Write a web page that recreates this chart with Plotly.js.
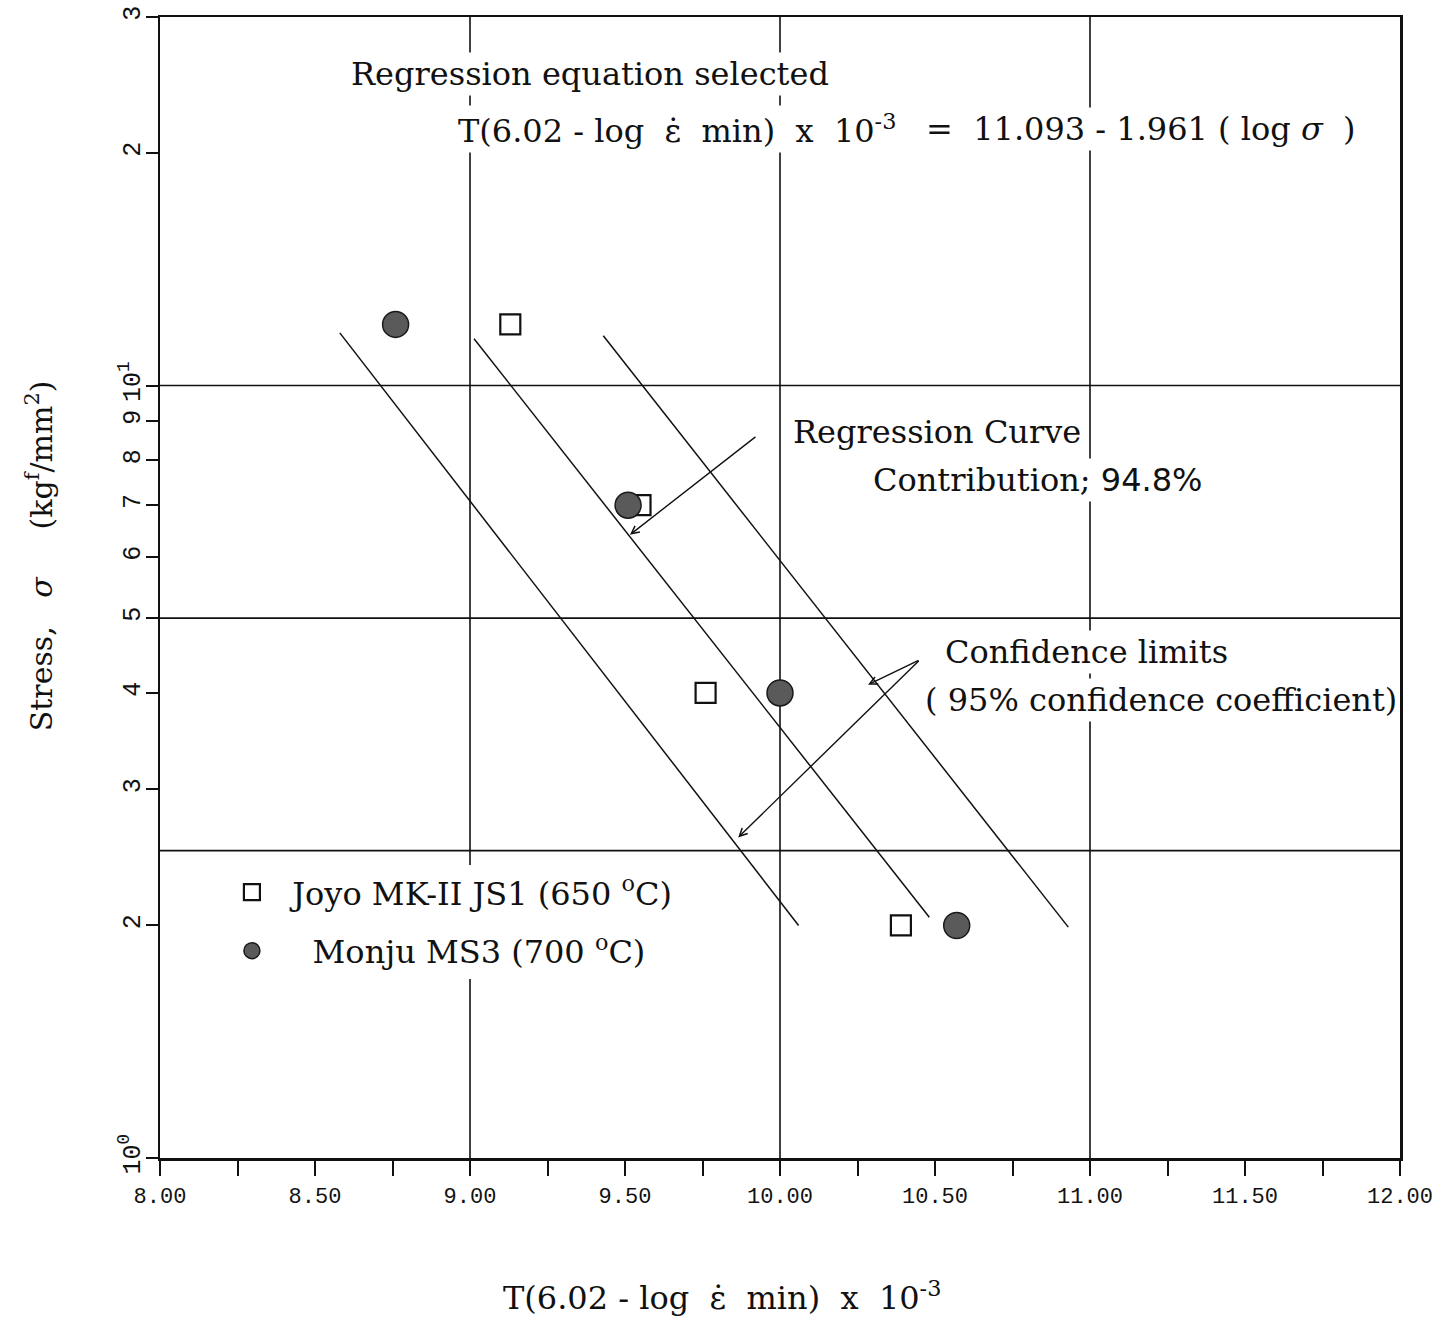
<!DOCTYPE html>
<html>
<head>
<meta charset="utf-8">
<script src="https://cdn.plot.ly/plotly-3.0.1.min.js"></script>
<style>html,body{margin:0;padding:0;background:#fff}</style>
</head>
<body>
<div id="chart" style="width:1446px;height:1319px"></div>
<script>
// Minimum creep rate parameter vs. stress
const joyoParam   = [9.13, 9.55, 9.76, 10.39];
const joyoStress  = [12, 7, 4, 2];
const monjuParam  = [8.76, 9.51, 10.00, 10.57];
const monjuStress = [12, 7, 4, 2];

// Selected regression: T(6.02 - log eps_min) x 10^-3 = A - B (log sigma)
const regA = 11.093;
const regB = 1.961;
const regStress = [11.5, 2.05];

// 95% confidence limit lines (end points)
const lowerParam  = [8.58, 10.06];
const lowerStress = [11.7, 2.0];
const upperParam  = [9.43, 10.93];
const upperStress = [11.6, 1.99];

// Reference grid lines
const gridParam  = [9, 10, 11];
const gridStress = [2.5, 5, 10];

// Stress axis ticks
const yTickVals = [1, 2, 3, 4, 5, 6, 7, 8, 9, 10, 20, 30];
const yTickText = ['10<sup>0</sup>', '2', '3', '4', '5', '6', '7', '8', '9', '10<sup>1</sup>', '2', '3'];

const regParam = regStress.map(s => regA - regB * Math.log10(s));

const SERIF = '"DejaVu Serif", "Liberation Serif", serif';
const MONO = '"Liberation Mono", "DejaVu Sans Mono", monospace';
const lineStyle = {color: '#111', width: 1.5};
const NB = '\u00A0';

const traces = [
  {x: lowerParam, y: lowerStress, mode: 'lines', line: lineStyle, showlegend: false, hoverinfo: 'skip'},
  {x: regParam, y: regStress, mode: 'lines', line: lineStyle, showlegend: false, hoverinfo: 'skip'},
  {x: upperParam, y: upperStress, mode: 'lines', line: lineStyle, showlegend: false, hoverinfo: 'skip'},
  {
    x: joyoParam, y: joyoStress, mode: 'markers',
    name: NB + NB + 'Joyo MK-II JS1 (650 <sup>o</sup>C)',
    legendgroup: 'joyo',
    marker: {symbol: 'square', size: 20, color: '#fff', line: {color: '#111', width: 2.2}}
  },
  {
    x: monjuParam, y: monjuStress, mode: 'markers',
    name: NB + NB + NB + NB + 'Monju MS3 (700 <sup>o</sup>C)',
    legendgroup: 'monju',
    marker: {symbol: 'circle', size: 26, color: '#5a5a5a', line: {color: '#1a1a1a', width: 1.5}}
  }
];

const shapes = [];
gridParam.forEach(v => shapes.push({
  type: 'line', xref: 'x', yref: 'paper', x0: v, x1: v, y0: 0, y1: 1,
  line: {color: '#111', width: 1.6}, layer: 'below'
}));
gridStress.forEach(v => shapes.push({
  type: 'line', xref: 'paper', yref: 'y', x0: 0, x1: 1, y0: v, y1: v,
  line: {color: '#111', width: 1.6}, layer: 'below'
}));

const lg = Math.log10;
const FS = 32;
const txt = (text, x, y, extra) => Object.assign({
  text, x, y: lg(y), xref: 'x', yref: 'y', xanchor: 'left', yanchor: 'middle',
  showarrow: false, bgcolor: '#fff', borderpad: 2,
  font: {family: SERIF, size: FS, color: '#111'}
}, extra || {});
const arrow = (x, y, ax, ay) => ({
  text: '', x, y: lg(y), xref: 'x', yref: 'y', ax, ay,
  showarrow: true, arrowhead: 5, arrowsize: 1.1, arrowwidth: 1.4, arrowcolor: '#111'
});

const paramLabel = 'T(6.02 - log ' + NB + '\u03B5\u0307' + NB + ' min) ' + NB + 'x ' + NB + '10<sup>-3</sup>';

const annotations = [
  txt('Regression equation selected', 8.606, 25.3),
  txt(paramLabel, 8.952, 21.5),
  txt('= ' + NB + '11.093 - 1.961 ( log <i>\u03C3</i> ' + NB + ')', 10.462, 21.5),
  txt('Regression Curve', 10.032, 8.72),
  txt('Contribution; <span style="font-family:\'DejaVu Sans\'">94.8%</span>', 10.29, 7.55),
  txt('Confidence limits', 10.523, 4.52),
  txt('( 95% confidence coefficient)', 10.458, 3.92),
  arrow(9.516, 6.41, 127, -99),
  arrow(10.284, 4.10, 52, -25),
  arrow(9.865, 2.60, 182, -178),
  {
    text: 'Stress, ' + NB + NB + '<i>\u03C3</i>' + NB + NB + NB + NB + ' (kg<sup>f</sup>/mm<sup>2</sup>)',
    xref: 'paper', yref: 'paper', x: -0.097, y: 0.528, textangle: -90,
    xanchor: 'center', yanchor: 'middle', showarrow: false,
    font: {family: SERIF, size: 30, color: '#111'}
  },
  {
    text: paramLabel,
    xref: 'paper', yref: 'paper', x: 0.453, y: -0.121,
    xanchor: 'center', yanchor: 'middle', showarrow: false,
    font: {family: SERIF, size: FS, color: '#111'}
  }
];

const layout = {
  width: 1446, height: 1319,
  margin: {l: 160, r: 46, t: 17, b: 161},
  paper_bgcolor: '#fff', plot_bgcolor: '#fff',
  showlegend: true,
  legend: {
    x: 0.058, y: 0.257, xanchor: 'left', yanchor: 'top',
    bgcolor: '#fff', borderwidth: 0, traceorder: 'grouped', tracegroupgap: 14,
    font: {family: SERIF, size: FS, color: '#111'}
  },
  xaxis: {
    range: [8, 12], dtick: 0.5, tick0: 8, tickformat: '.2f',
    showgrid: false, zeroline: false,
    showline: true, mirror: true, linecolor: '#111', linewidth: 2.5,
    ticks: 'outside', ticklen: 15, tickwidth: 2, tickcolor: '#111',
    minor: {dtick: 0.25, ticks: 'outside', ticklen: 15, tickwidth: 2, tickcolor: '#111', showgrid: false},
    ticklabelstandoff: 1,
    tickfont: {family: MONO, size: 22, color: '#111'}
  },
  yaxis: {
    type: 'log', range: [0, Math.log10(30)],
    tickvals: yTickVals, ticktext: yTickText, tickangle: -90,
    showgrid: false, zeroline: false,
    showline: true, mirror: true, linecolor: '#111', linewidth: 2.5,
    ticks: 'outside', ticklen: 12, tickwidth: 2, tickcolor: '#111',
    ticklabelstandoff: -4,
    tickfont: {family: MONO, size: 25, color: '#111'}
  },
  shapes, annotations
};

Plotly.newPlot('chart', traces, layout, {displayModeBar: false, staticPlot: true});
</script>
</body>
</html>
